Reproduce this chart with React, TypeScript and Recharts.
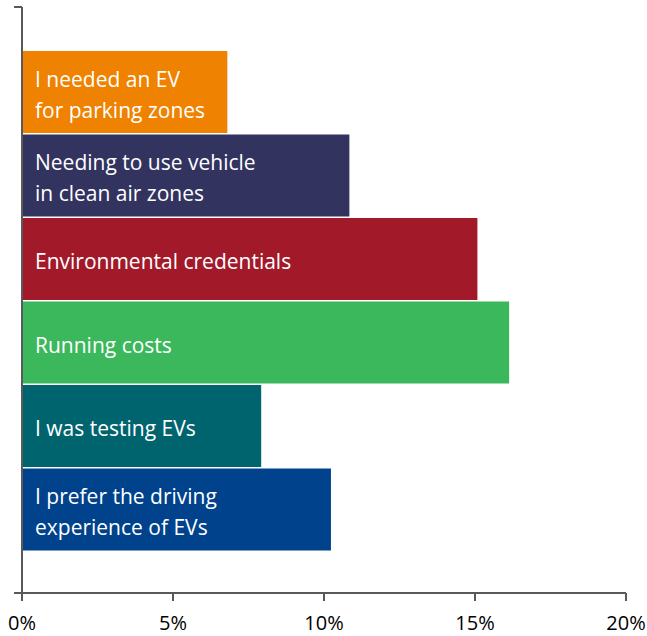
import React from 'react';
import { BarChart, Bar, XAxis, YAxis, Cell, LabelList } from 'recharts';

const reasons = [
  'I needed an EV\nfor parking zones',
  'Needing to use vehicle\nin clean air zones',
  'Environmental credentials',
  'Running costs',
  'I was testing EVs',
  'I prefer the driving\nexperience of EVs',
];
const shares = [6.8, 10.84, 15.08, 16.13, 7.92, 10.23];
const xTicks = [0, 5, 10, 15, 20];
const barColors = ['#EF8200', '#33335F', '#A21A2A', '#3CB85C', '#00646E', '#00428C'];

const data = reasons.map((reason, i) => ({ reason, share: shares[i] }));

const FONT = '"Open Sans", sans-serif';
const AXIS = '#595959';
const W = 647;
const H = 636;
const M_TOP = 7;
const X_AXIS_H = 43;
const AXIS_Y = H - X_AXIS_H;

const BarText = (props: any) => {
  const { x, y, height, value } = props;
  const lines = String(value).split('\n');
  const cy = y + height / 2;
  const lh = 31;
  const start = cy - ((lines.length - 1) * lh) / 2;
  return (
    <text x={x + 13} fill="#fff" fontFamily={FONT} fontSize={21}>
      {lines.map((l, i) => (
        <tspan key={i} x={x + 13} y={start + i * lh + 10}>
          {l}
        </tspan>
      ))}
    </text>
  );
};

// x tick label; the 0% tick also draws the two short y-axis ticks (top & bottom)
const XTick = (props: any) => {
  const { x, y, payload } = props;
  return (
    <g>
      {payload.value === 0 && (
        <>
          <line x1={x - 8} x2={x} y1={AXIS_Y} y2={AXIS_Y} stroke={AXIS} strokeWidth={2} />
          <line x1={x - 8} x2={x} y1={M_TOP} y2={M_TOP} stroke={AXIS} strokeWidth={2} />
        </>
      )}
      <text x={x} y={y} dy="0.71em" textAnchor="middle" fill="#000" fontFamily={FONT} fontSize={20}>
        {`${payload.value}%`}
      </text>
    </g>
  );
};

export default function App() {
  return (
    <div style={{ position: 'absolute', left: 0, top: 0, background: '#fff' }}>
      <BarChart
        width={W}
        height={H}
        data={data}
        layout="vertical"
        margin={{ top: M_TOP, right: 21, bottom: 0, left: 21 }}
        barCategoryGap={1}
      >
        <XAxis
          type="number"
          domain={[0, 20]}
          ticks={xTicks}
          height={X_AXIS_H}
          tickSize={8}
          tickMargin={15}
          axisLine={{ stroke: AXIS, strokeWidth: 2 }}
          tickLine={{ stroke: AXIS, strokeWidth: 2 }}
          tick={XTick}
          interval={0}
        />
        <YAxis
          type="category"
          dataKey="reason"
          width={1}
          tick={false}
          tickLine={false}
          axisLine={{ stroke: AXIS, strokeWidth: 2 }}
          padding={{ top: 43, bottom: 42 }}
        />
        <Bar dataKey="share" isAnimationActive={false}>
          {data.map((_, i) => (
            <Cell key={i} fill={barColors[i]} />
          ))}
          <LabelList dataKey="reason" content={BarText} />
        </Bar>
      </BarChart>
    </div>
  );
}
